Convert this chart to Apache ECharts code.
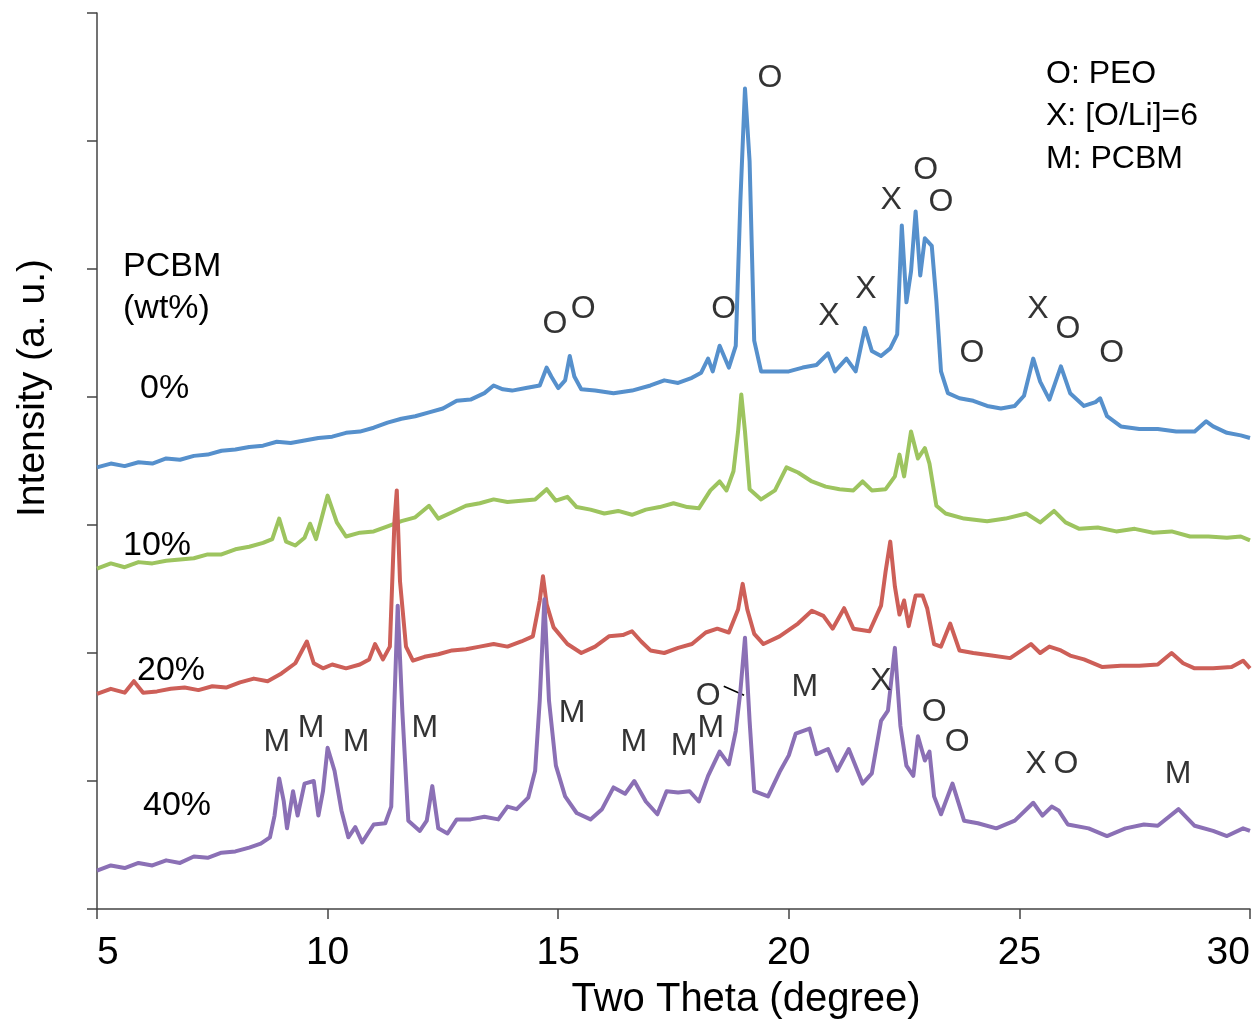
<!DOCTYPE html>
<html>
<head>
<meta charset="utf-8">
<script src="https://cdn.jsdelivr.net/npm/echarts@6/dist/echarts.min.js"></script>
<style>
html,body{margin:0;padding:0;background:#fff;overflow:hidden;}
#chart{width:1254px;height:1021px;}
</style>
</head>
<body>
<div id="chart"></div>
<script>
// Two theta (degree) vs intensity (a.u., stacked offsets as drawn)
const pcbm0 = [[5.0,3.45],[5.3,3.48],[5.6,3.46],[5.9,3.49],[6.2,3.48],[6.5,3.52],[6.8,3.51],[7.1,3.54],[7.4,3.55],[7.7,3.58],[8.0,3.59],[8.3,3.61],[8.6,3.62],[8.9,3.65],[9.2,3.64],[9.5,3.66],[9.8,3.68],[10.1,3.69],[10.4,3.72],[10.7,3.73],[11.0,3.76],[11.3,3.80],[11.6,3.83],[11.9,3.85],[12.2,3.88],[12.5,3.91],[12.8,3.97],[13.1,3.98],[13.4,4.03],[13.6,4.09],[13.8,4.06],[14.0,4.05],[14.3,4.07],[14.6,4.09],[14.75,4.23],[14.85,4.16],[15.0,4.07],[15.15,4.13],[15.25,4.32],[15.35,4.16],[15.5,4.06],[15.8,4.05],[16.2,4.03],[16.6,4.05],[17.0,4.09],[17.3,4.13],[17.6,4.11],[17.9,4.15],[18.1,4.19],[18.25,4.30],[18.35,4.20],[18.5,4.40],[18.7,4.23],[18.85,4.40],[18.95,5.53],[19.05,6.41],[19.15,5.84],[19.25,4.44],[19.4,4.20],[19.7,4.20],[20.0,4.20],[20.3,4.23],[20.6,4.25],[20.85,4.34],[21.0,4.20],[21.25,4.30],[21.45,4.20],[21.65,4.54],[21.8,4.36],[22.0,4.32],[22.2,4.38],[22.35,4.49],[22.45,5.34],[22.55,4.74],[22.65,4.98],[22.75,5.45],[22.85,4.95],[22.95,5.24],[23.1,5.18],[23.2,4.75],[23.3,4.20],[23.45,4.03],[23.7,3.99],[24.0,3.97],[24.3,3.93],[24.6,3.91],[24.9,3.93],[25.1,4.01],[25.3,4.30],[25.45,4.12],[25.65,3.98],[25.9,4.24],[26.1,4.03],[26.4,3.93],[26.65,3.96],[26.75,3.99],[26.9,3.85],[27.2,3.77],[27.6,3.75],[28.0,3.75],[28.4,3.73],[28.8,3.73],[29.05,3.81],[29.2,3.77],[29.5,3.72],[29.8,3.70],[30.0,3.68]];

const pcbm10 = [[5.0,2.66],[5.3,2.70],[5.6,2.67],[5.9,2.71],[6.2,2.70],[6.5,2.72],[6.8,2.73],[7.1,2.74],[7.4,2.77],[7.7,2.77],[8.0,2.81],[8.3,2.83],[8.6,2.86],[8.8,2.89],[8.95,3.05],[9.1,2.87],[9.3,2.84],[9.5,2.90],[9.62,3.01],[9.75,2.89],[10.0,3.23],[10.2,3.02],[10.4,2.91],[10.7,2.94],[11.0,2.95],[11.3,2.99],[11.6,3.03],[11.9,3.06],[12.2,3.15],[12.4,3.05],[12.7,3.10],[13.0,3.15],[13.3,3.17],[13.6,3.20],[13.9,3.18],[14.2,3.19],[14.5,3.20],[14.75,3.28],[14.95,3.19],[15.2,3.22],[15.4,3.14],[15.7,3.12],[16.0,3.09],[16.3,3.11],[16.6,3.08],[16.9,3.12],[17.2,3.14],[17.5,3.17],[17.8,3.14],[18.05,3.13],[18.3,3.27],[18.5,3.34],[18.65,3.27],[18.8,3.42],[18.9,3.73],[18.97,4.02],[19.05,3.73],[19.15,3.28],[19.4,3.20],[19.7,3.27],[19.95,3.45],[20.2,3.41],[20.5,3.34],[20.8,3.30],[21.1,3.28],[21.4,3.27],[21.6,3.34],[21.8,3.27],[22.1,3.28],[22.3,3.38],[22.4,3.55],[22.5,3.38],[22.65,3.73],[22.8,3.52],[22.95,3.60],[23.05,3.48],[23.2,3.15],[23.4,3.09],[23.8,3.05],[24.3,3.03],[24.7,3.05],[25.15,3.09],[25.45,3.02],[25.75,3.11],[26.0,3.02],[26.3,2.97],[26.7,2.98],[27.1,2.95],[27.5,2.97],[27.9,2.94],[28.3,2.95],[28.7,2.91],[29.1,2.91],[29.5,2.90],[29.8,2.91],[30.0,2.88]];

const pcbm20 = [[5.0,1.68],[5.3,1.72],[5.6,1.69],[5.8,1.78],[6.0,1.69],[6.3,1.70],[6.6,1.72],[6.9,1.73],[7.2,1.71],[7.5,1.74],[7.8,1.73],[8.1,1.77],[8.4,1.80],[8.7,1.78],[9.0,1.84],[9.3,1.92],[9.55,2.09],[9.7,1.92],[9.9,1.88],[10.1,1.91],[10.4,1.88],[10.7,1.91],[10.9,1.95],[11.03,2.07],[11.2,1.95],[11.35,2.05],[11.45,3.03],[11.5,3.27],[11.57,2.56],[11.7,2.05],[11.85,1.94],[12.1,1.97],[12.4,1.99],[12.7,2.02],[13.0,2.03],[13.3,2.05],[13.6,2.07],[13.9,2.05],[14.2,2.09],[14.45,2.13],[14.6,2.41],[14.67,2.60],[14.75,2.38],[14.9,2.20],[15.2,2.07],[15.5,2.00],[15.8,2.05],[16.1,2.13],[16.4,2.14],[16.6,2.17],[16.8,2.09],[17.0,2.02],[17.3,2.00],[17.6,2.04],[17.9,2.07],[18.2,2.16],[18.45,2.19],[18.7,2.16],[18.9,2.34],[19.0,2.54],[19.1,2.34],[19.25,2.15],[19.45,2.07],[19.8,2.13],[20.2,2.23],[20.5,2.33],[20.75,2.29],[20.95,2.19],[21.2,2.35],[21.4,2.19],[21.75,2.17],[22.0,2.37],[22.1,2.64],[22.2,2.87],[22.3,2.52],[22.4,2.30],[22.5,2.41],[22.6,2.21],[22.75,2.45],[22.9,2.45],[23.0,2.35],[23.15,2.07],[23.3,2.05],[23.5,2.23],[23.7,2.02],[24.0,2.00],[24.4,1.98],[24.8,1.96],[25.05,2.02],[25.25,2.07],[25.45,2.00],[25.65,2.05],[25.9,2.02],[26.1,1.98],[26.4,1.95],[26.8,1.89],[27.2,1.90],[27.6,1.90],[28.0,1.91],[28.3,2.00],[28.55,1.92],[28.8,1.88],[29.2,1.88],[29.6,1.89],[29.85,1.94],[30.0,1.88]];

const pcbm40 = [[5.0,0.30],[5.3,0.34],[5.6,0.32],[5.9,0.36],[6.2,0.34],[6.5,0.38],[6.8,0.36],[7.1,0.41],[7.4,0.40],[7.7,0.44],[8.0,0.45],[8.3,0.48],[8.55,0.51],[8.75,0.56],[8.85,0.73],[8.95,1.02],[9.05,0.84],[9.12,0.63],[9.25,0.92],[9.35,0.73],[9.5,0.98],[9.7,1.00],[9.8,0.73],[9.9,0.92],[10.0,1.26],[10.15,1.08],[10.3,0.77],[10.45,0.56],[10.6,0.64],[10.75,0.52],[11.0,0.66],[11.25,0.67],[11.38,0.80],[11.45,1.63],[11.52,2.37],[11.62,1.55],[11.75,0.69],[12.0,0.61],[12.15,0.69],[12.27,0.96],[12.4,0.63],[12.6,0.59],[12.8,0.70],[13.1,0.70],[13.4,0.72],[13.7,0.70],[13.9,0.80],[14.1,0.78],[14.35,0.87],[14.5,1.08],[14.6,1.63],[14.7,2.42],[14.8,1.63],[14.95,1.12],[15.15,0.88],[15.4,0.75],[15.7,0.70],[15.95,0.78],[16.2,0.95],[16.45,0.90],[16.65,1.00],[16.9,0.84],[17.15,0.74],[17.35,0.92],[17.6,0.91],[17.85,0.92],[18.05,0.84],[18.25,1.04],[18.5,1.23],[18.7,1.13],[18.85,1.39],[18.95,1.70],[19.05,2.12],[19.15,1.47],[19.25,0.92],[19.55,0.88],[19.8,1.07],[20.0,1.20],[20.15,1.37],[20.45,1.41],[20.6,1.21],[20.85,1.25],[21.05,1.08],[21.3,1.25],[21.6,0.98],[21.8,1.06],[22.0,1.47],[22.15,1.55],[22.3,2.04],[22.42,1.43],[22.55,1.12],[22.7,1.04],[22.8,1.35],[22.95,1.16],[23.05,1.23],[23.15,0.88],[23.3,0.74],[23.55,0.98],[23.8,0.69],[24.1,0.67],[24.5,0.63],[24.9,0.69],[25.3,0.83],[25.5,0.73],[25.7,0.80],[25.85,0.77],[26.05,0.66],[26.5,0.63],[26.9,0.57],[27.3,0.63],[27.7,0.66],[28.0,0.65],[28.45,0.78],[28.8,0.65],[29.2,0.61],[29.5,0.57],[29.85,0.63],[30.0,0.61]];

const seriesNames = ['0%', '10%', '20%', '40%'];
const xTicks = [5, 10, 15, 20, 25, 30];

// peak assignment labels: [two theta, intensity, text]
const peakLabels = [
  [19.59,6.49,'O'],[14.93,4.57,'O'],[15.54,4.69,'O'],[18.59,4.69,'O'],
  [20.87,4.63,'X'],[21.67,4.84,'X'],[22.22,5.54,'X'],[22.97,5.77,'O'],
  [23.30,5.52,'O'],[23.97,4.34,'O'],[25.40,4.69,'X'],[26.05,4.53,'O'],[27.00,4.34,'O'],
  [8.90,1.30,'M'],[9.64,1.41,'M'],[10.62,1.30,'M'],[12.11,1.41,'M'],[15.30,1.53,'M'],
  [16.64,1.30,'M'],[17.73,1.27,'M'],[18.31,1.41,'M'],[18.25,1.66,'O'],[20.35,1.73,'M'],
  [22.00,1.78,'X'],[23.15,1.54,'O'],[23.65,1.30,'O'],[25.36,1.13,'X'],[26.01,1.13,'O'],[28.44,1.05,'M']
];
const leader = [[18.59,1.74],[19.03,1.67]];

const legendLines = ['O: PEO', 'X: [O/Li]=6', 'M: PCBM'];
const xTitle = 'Two Theta (degree)';
const yTitle = 'Intensity (a. u.)';

const colors = ['#5690cc', '#9dc45f', '#cd5f58', '#8b70b5'];
const FONT = '"Liberation Sans", Arial, sans-serif';

const chart = echarts.init(document.getElementById('chart'), null, {renderer: 'canvas', width: 1254, height: 1021});
const dataSets = [pcbm0, pcbm10, pcbm20, pcbm40];

const series = dataSets.map((d, i) => ({
  name: seriesNames[i],
  type: 'line',
  data: d,
  showSymbol: false,
  symbol: 'none',
  smooth: false,
  lineStyle: {color: colors[i], width: 4, join: 'round'},
  z: 2 + i
}));

series.push({
  type: 'scatter',
  symbolSize: 0,
  silent: true,
  z: 10,
  data: peakLabels.map(p => ({value: [p[0], p[1]], name: p[2]})),
  label: {
    show: true, position: 'inside', formatter: p => p.name,
    fontFamily: FONT, fontSize: 32, color: '#000'
  },
  markLine: {
    silent: true, symbol: 'none', label: {show: false},
    lineStyle: {color: '#000', width: 1.5, type: 'solid'},
    data: [[{coord: leader[0]}, {coord: leader[1]}]]
  }
});

const graphics = [
  {type: 'text', left: 123, top: 250, style: {text: 'PCBM', font: '34px ' + FONT, fill: '#000'}},
  {type: 'text', left: 123, top: 292, style: {text: '(wt%)', font: '34px ' + FONT, fill: '#000'}},
  {type: 'text', left: 140, top: 372, style: {text: '0%', font: '34px ' + FONT, fill: '#000'}},
  {type: 'text', left: 123, top: 529, style: {text: '10%', font: '34px ' + FONT, fill: '#000'}},
  {type: 'text', left: 137, top: 654, style: {text: '20%', font: '34px ' + FONT, fill: '#000'}},
  {type: 'text', left: 143, top: 789, style: {text: '40%', font: '34px ' + FONT, fill: '#000'}},
  {type: 'text', x: 746, y: 1000, style: {text: xTitle, font: '40px ' + FONT, fill: '#000', textAlign: 'center', textVerticalAlign: 'middle'}},
  {type: 'text', x: 33, y: 388, rotation: Math.PI / 2, style: {text: yTitle, font: '39px ' + FONT, fill: '#000', textAlign: 'center', textVerticalAlign: 'middle'}}
];
legendLines.forEach((t, i) => {
  graphics.push({type: 'text', left: 1046, top: 58 + i * 42.5, style: {text: t, font: '32px ' + FONT, fill: '#000'}});
});

chart.setOption({
  animation: false,
  backgroundColor: '#fff',
  grid: {left: 97, right: 4, top: 13, bottom: 112, containLabel: false, outerBoundsMode: 'none'},
  xAxis: {
    type: 'value', min: xTicks[0], max: xTicks[xTicks.length - 1], interval: 5,
    axisLine: {show: true, onZero: false, lineStyle: {color: '#444', width: 1.5}},
    axisTick: {show: true, inside: false, length: 10, lineStyle: {color: '#444', width: 1.5}},
    axisLabel: {fontFamily: FONT, fontSize: 39, color: '#000', margin: 25, hideOverlap: false,
      alignMinLabel: 'left', alignMaxLabel: 'right'},
    splitLine: {show: false}
  },
  yAxis: {
    type: 'value', min: 0, max: 7, interval: 1,
    axisLine: {show: true, lineStyle: {color: '#444', width: 1.5}},
    axisTick: {show: true, inside: false, length: 10, lineStyle: {color: '#444', width: 1.5}},
    axisLabel: {show: false},
    splitLine: {show: false}
  },
  series: series,
  graphic: graphics
});
</script>
</body>
</html>
